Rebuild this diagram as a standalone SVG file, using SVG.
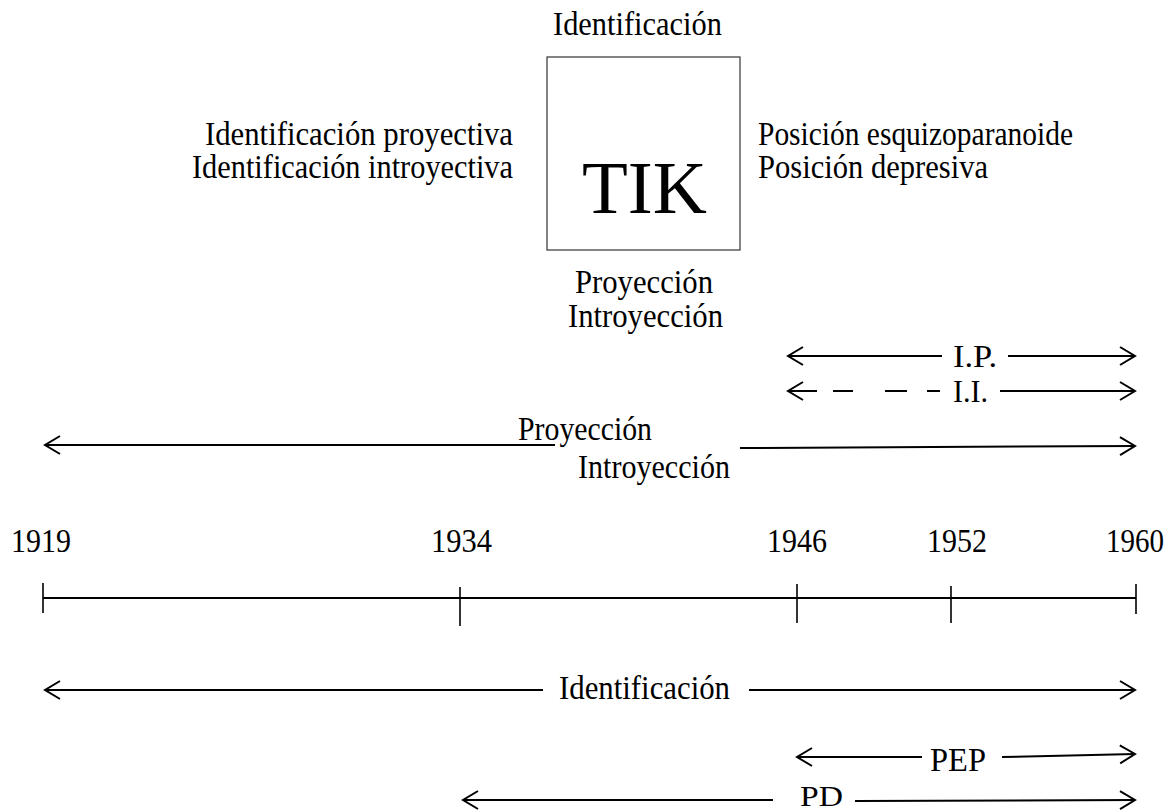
<svg xmlns="http://www.w3.org/2000/svg" width="1170" height="812" viewBox="0 0 1170 812">
<style>
text{font-family:"Liberation Serif","Times New Roman",serif;font-size:33px;fill:#000}
.ln{stroke:#000;stroke-width:2;fill:none}
.tk{stroke:#000;stroke-width:1.6;fill:none}
</style>
<defs>
<marker id="ah" markerUnits="userSpaceOnUse" markerWidth="24" markerHeight="24" viewBox="-18 -12 20 24" refX="0" refY="0" orient="auto">
<path d="M-15,-9 L0,0 L-15,9" fill="none" stroke="#000" stroke-width="2"/>
</marker>
</defs>
<rect width="1170" height="812" fill="#fff"/>
<g id="tik">
<rect x="547" y="57" width="193" height="193" fill="#fff" stroke="#333" stroke-width="1.2"/>
<text x="582" y="213" textLength="125" lengthAdjust="spacingAndGlyphs" style="font-size:75px">TIK</text>
</g>
<g id="label-top"><text x="553" y="35" textLength="169" lengthAdjust="spacingAndGlyphs">Identificación</text></g>
<g id="label-left">
<text x="205" y="145" textLength="308" lengthAdjust="spacingAndGlyphs">Identificación proyectiva</text>
<text x="192" y="178" textLength="321" lengthAdjust="spacingAndGlyphs">Identificación introyectiva</text>
</g>
<g id="label-right">
<text x="758" y="145" textLength="315" lengthAdjust="spacingAndGlyphs">Posición esquizoparanoide</text>
<text x="758" y="178" textLength="230" lengthAdjust="spacingAndGlyphs">Posición depresiva</text>
</g>
<g id="label-bottom">
<text x="575" y="293" textLength="138" lengthAdjust="spacingAndGlyphs">Proyección</text>
<text x="568" y="327" textLength="155" lengthAdjust="spacingAndGlyphs">Introyección</text>
</g>
<g id="timeline">
<line class="ln" x1="43" y1="598" x2="1136" y2="598"/>
<line class="tk" x1="43" y1="583" x2="43" y2="613"/>
<line class="tk" x1="460" y1="587" x2="460" y2="626"/>
<line class="tk" x1="797" y1="584" x2="797" y2="623"/>
<line class="tk" x1="951" y1="586" x2="951" y2="623"/>
<line class="tk" x1="1136" y1="584" x2="1136" y2="614"/>
<text x="11" y="552" textLength="60" lengthAdjust="spacingAndGlyphs">1919</text>
<text x="431" y="552" textLength="61" lengthAdjust="spacingAndGlyphs">1934</text>
<text x="767" y="552" textLength="60" lengthAdjust="spacingAndGlyphs">1946</text>
<text x="927" y="552" textLength="60" lengthAdjust="spacingAndGlyphs">1952</text>
<text x="1106" y="552" textLength="58" lengthAdjust="spacingAndGlyphs">1960</text>
</g>
<g id="connectors">
<line class="ln" x1="942" y1="356" x2="788" y2="356" marker-end="url(#ah)"/>
<line class="ln" x1="1008" y1="356" x2="1135" y2="356" marker-end="url(#ah)"/>
<line class="ln" x1="817" y1="391" x2="788" y2="391" marker-end="url(#ah)"/>
<path class="ln" d="M833,391 H853 M885,391 H907 M927,391 H940"/>
<line class="ln" x1="1000" y1="391" x2="1135" y2="391" marker-end="url(#ah)"/>
<line class="ln" x1="555" y1="445" x2="45" y2="445" marker-end="url(#ah)"/>
<line class="ln" x1="740" y1="448" x2="1135" y2="446" marker-end="url(#ah)"/>
<line class="ln" x1="543" y1="690" x2="45" y2="690" marker-end="url(#ah)"/>
<line class="ln" x1="749" y1="690" x2="1135" y2="690" marker-end="url(#ah)"/>
<line class="ln" x1="922" y1="757" x2="797" y2="757" marker-end="url(#ah)"/>
<line class="ln" x1="1002" y1="757" x2="1135" y2="754" marker-end="url(#ah)"/>
<line class="ln" x1="773" y1="800" x2="463" y2="800" marker-end="url(#ah)"/>
<line class="ln" x1="855" y1="801" x2="1135" y2="800" marker-end="url(#ah)"/>
</g>
<g id="labels">
<text x="953" y="367" textLength="44" lengthAdjust="spacingAndGlyphs" style="font-size:31px">I.P.</text>
<text x="953" y="402" textLength="35" lengthAdjust="spacingAndGlyphs" style="font-size:31px">I.I.</text>
<text x="518" y="440" textLength="134" lengthAdjust="spacingAndGlyphs">Proyección</text>
<text x="578" y="478" textLength="152" lengthAdjust="spacingAndGlyphs">Introyección</text>
<text x="559" y="699" textLength="171" lengthAdjust="spacingAndGlyphs">Identificación</text>
<text x="930" y="771" textLength="56" lengthAdjust="spacingAndGlyphs">PEP</text>
<text x="800" y="806" textLength="43" lengthAdjust="spacingAndGlyphs" style="font-size:29px">PD</text>
</g>
</svg>
